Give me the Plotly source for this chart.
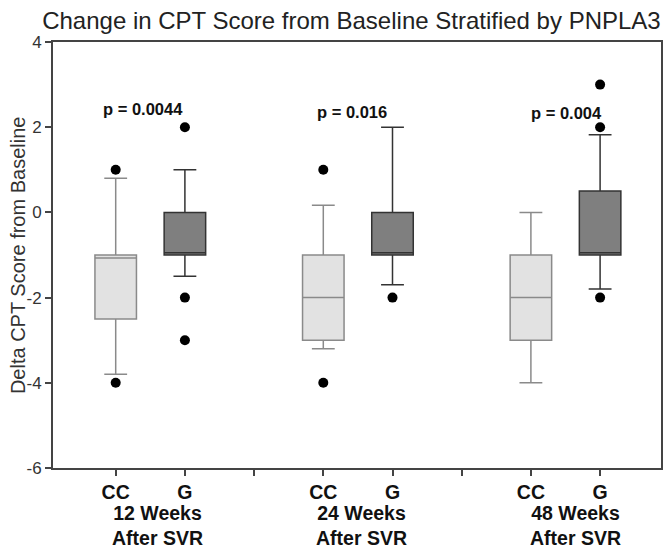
import plotly.graph_objects as go

# ---- data ----
positions = [1, 2, 4, 5, 7, 8]
genotypes = ["CC", "G", "CC", "G", "CC", "G"]
q1_vals = [-2.5, -1.0, -3.0, -1.0, -3.0, -1.0]
median_vals = [-1.07, -0.95, -2.0, -0.95, -2.0, -0.95]
q3_vals = [-1.0, 0.0, -1.0, 0.0, -1.0, 0.5]
lower_vals = [-3.8, -1.5, -3.2, -1.7, -4.0, -1.8]
upper_vals = [0.8, 1.0, 0.17, 2.0, 0.0, 1.82]
outlier_x = [1, 1, 2, 2, 2, 4, 4, 5, 8, 8, 8]
outlier_y = [1, -4, 2, -2, -3, 1, -4, -2, 3, 2, -2]

tick_positions = [1, 2, 3, 4, 5, 6, 7, 8]
tick_labels = ["CC", "G", "", "CC", "G", "", "CC", "G"]
y_tick_values = [-6, -4, -2, 0, 2, 4]
y_tick_labels = ["-6", "-4", "-2", "0", "2", "4"]
group_label_x = [1.6, 4.55, 7.65]
group_labels = ["12 Weeks<br>After SVR", "24 Weeks<br>After SVR", "48 Weeks<br>After SVR"]
p_label_x = [1.39, 4.42, 7.51]
p_label_y = [2.43, 2.36, 2.33]
p_labels = ["p = 0.0044", "p = 0.016", "p = 0.004"]

styles = {
    "CC": dict(fill="#e2e2e2", line="#8a8a8a"),
    "G": dict(fill="#7f7f7f", line="#333333"),
}

fig = go.Figure()
for i, pos in enumerate(positions):
    st = styles[genotypes[i]]
    fig.add_trace(go.Box(
        x=[pos], q1=[q1_vals[i]], median=[median_vals[i]], q3=[q3_vals[i]],
        lowerfence=[lower_vals[i]], upperfence=[upper_vals[i]],
        width=0.6, whiskerwidth=0.55, boxpoints=False,
        fillcolor=st["fill"], line=dict(color=st["line"], width=1.5),
        showlegend=False, hoverinfo="skip",
    ))

fig.add_trace(go.Scatter(
    x=outlier_x, y=outlier_y, mode="markers",
    marker=dict(color="black", size=10, symbol="circle"),
    showlegend=False, hoverinfo="skip",
))

for x, y, t in zip(p_label_x, p_label_y, p_labels):
    fig.add_annotation(x=x, y=y, xref="x", yref="y", text=f"<b>{t}</b>",
                       showarrow=False, font=dict(family="Liberation Sans", size=16.5, color="#111111"))

for x, t in zip(group_label_x, group_labels):
    fig.add_annotation(x=x, y=-0.134, xref="x", yref="paper", text=f"<b>{t}</b>",
                       showarrow=False, align="center", yanchor="middle",
                       font=dict(family="Liberation Sans", size=19.5, color="#111111"))

fig.add_annotation(x=-0.0574, y=0.5, xref="paper", yref="paper",
                   text="Delta CPT Score from Baseline", textangle=-90, showarrow=False,
                   xanchor="center", yanchor="middle",
                   font=dict(family="Liberation Sans", size=20, color="#333333"))

# page body adds an 8px offset; figure sized/margined to compensate
fig.update_layout(
    width=663, height=541,
    margin=dict(l=45, r=8, t=34, b=81),
    paper_bgcolor="white", plot_bgcolor="white",
    title=dict(text="Change in CPT Score from Baseline Stratified by PNPLA3",
               x=0.518, xanchor="center", y=0.992, yanchor="top",
               font=dict(family="Liberation Sans", size=24, color="#222222")),
    xaxis=dict(range=[0.094, 8.88], tickmode="array", tickvals=tick_positions,
               ticktext=[f"<b>{t}</b>" if t else "" for t in tick_labels],
               ticks="outside", ticklen=6, tickcolor="#444444", tickwidth=1.5,
               showline=True, linecolor="#444444", linewidth=2, mirror=True,
               showgrid=False, zeroline=False,
               tickfont=dict(family="Liberation Sans", size=19.5, color="#111111")),
    yaxis=dict(range=[-6, 4], tickmode="array", tickvals=y_tick_values, ticktext=y_tick_labels,
               ticks="outside", ticklen=6, tickcolor="#444444", tickwidth=1.5,
               showline=True, linecolor="#444444", linewidth=2, mirror=True,
               showgrid=False, zeroline=False,
               tickfont=dict(family="Liberation Sans", size=17, color="#333333")),
)

fig.write_html("out.html")
